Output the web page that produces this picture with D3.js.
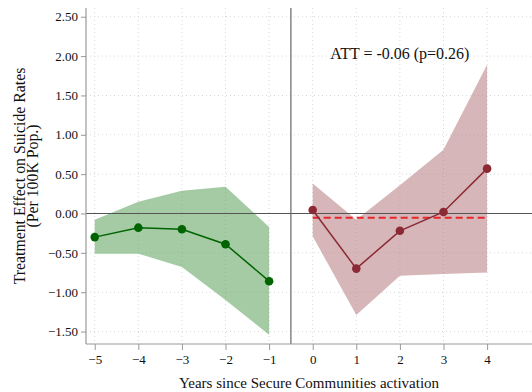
<!DOCTYPE html>
<html><head><meta charset="utf-8">
<script src="https://cdn.jsdelivr.net/npm/d3@7"></script>
<style>body{margin:0;background:#fff}svg{display:block}text{font-family:"Liberation Serif","Times New Roman",serif}</style>
</head><body>
<script>
const preYears = [-5, -4, -3, -2, -1];
const preEst = [-0.30, -0.18, -0.20, -0.39, -0.86];
const preHi = [-0.08, 0.15, 0.29, 0.34, -0.17];
const preLo = [-0.51, -0.51, -0.68, -1.10, -1.54];
const postYears = [0, 1, 2, 3, 4];
const postEst = [0.045, -0.70, -0.22, 0.02, 0.57];
const postHi = [0.38, -0.08, 0.36, 0.81, 1.89];
const postLo = [-0.29, -1.29, -0.79, -0.77, -0.75];
const att = -0.055;
const xTicks = [-5, -4, -3, -2, -1, 0, 1, 2, 3, 4];
const yTicks = [-1.5, -1.0, -0.5, 0, 0.5, 1.0, 1.5, 2.0, 2.5];
const attLabel = "ATT = -0.06 (p=0.26)";

const W = 532, H = 392;
const L = 86, R = 532, T = 8, B = 344;
const svg = d3.select("body").append("svg").attr("width", W).attr("height", H);
const x = d3.scaleLinear().domain([-5.2, 5.03]).range([L, R]);
const y = d3.scaleLinear().domain([-1.658, 2.611]).range([B, T]);

// grid
const g = svg.append("g");
g.selectAll(".gx").data(xTicks).join("line")
  .attr("x1", d => x(d)).attr("x2", d => x(d)).attr("y1", T).attr("y2", B)
  .attr("stroke", "#d8d8d8").attr("stroke-width", 1).attr("stroke-dasharray", "1,3");
g.selectAll(".gy").data(yTicks).join("line")
  .attr("x1", L).attr("x2", R).attr("y1", d => y(d)).attr("y2", d => y(d))
  .attr("stroke", "#d8d8d8").attr("stroke-width", 1).attr("stroke-dasharray", "1,3");

const pre = preYears.map((d, i) => ({x: d, e: preEst[i], hi: preHi[i], lo: preLo[i]}));
const post = postYears.map((d, i) => ({x: d, e: postEst[i], hi: postHi[i], lo: postLo[i]}));
const area = d3.area().x(d => x(d.x)).y0(d => y(d.lo)).y1(d => y(d.hi));
const line = d3.line().x(d => x(d.x)).y(d => y(d.e));

svg.append("path").datum(pre).attr("d", area).attr("fill", "#62a562").attr("fill-opacity", 0.58);
svg.append("path").datum(post).attr("d", area).attr("fill", "#b57a7e").attr("fill-opacity", 0.55);

// zero line and vertical line
svg.append("line").attr("x1", L).attr("x2", R).attr("y1", y(0)).attr("y2", y(0)).attr("stroke", "#555").attr("stroke-width", 1.2);
svg.append("line").attr("x1", x(-0.5)).attr("x2", x(-0.5)).attr("y1", T).attr("y2", B).attr("stroke", "#666").attr("stroke-width", 1.2);

// ATT dashed
svg.append("line").attr("x1", x(0)).attr("x2", x(4)).attr("y1", y(att)).attr("y2", y(att))
  .attr("stroke", "#e8262a").attr("stroke-width", 2).attr("stroke-dasharray", "7,4");

svg.append("path").datum(pre).attr("d", line).attr("fill", "none").attr("stroke", "#006400").attr("stroke-width", 1.5);
svg.selectAll(".pp").data(pre).join("circle").attr("cx", d => x(d.x)).attr("cy", d => y(d.e)).attr("r", 4.3).attr("fill", "#006400");
svg.append("path").datum(post).attr("d", line).attr("fill", "none").attr("stroke", "#8b2a35").attr("stroke-width", 1.5);
svg.selectAll(".qp").data(post).join("circle").attr("cx", d => x(d.x)).attr("cy", d => y(d.e)).attr("r", 4.3).attr("fill", "#8b2a35");

// axes
const ax = svg.append("g").attr("transform", `translate(0,${B})`)
  .call(d3.axisBottom(x).tickValues(xTicks).tickFormat(d3.format("d")).tickSize(6).tickPadding(5));
ax.select(".domain").remove();
ax.selectAll(".tick line").attr("stroke", "#999");
ax.selectAll("text").attr("font-size", 13).attr("fill", "#111").attr("font-family", "Liberation Serif");
const ay = svg.append("g").attr("transform", `translate(${L},0)`)
  .call(d3.axisLeft(y).tickValues(yTicks).tickFormat(d3.format(".2f")).tickSize(5).tickPadding(3));
ay.select(".domain").remove();
ay.selectAll(".tick line").attr("stroke", "#999");
ay.selectAll("text").attr("font-size", 13).attr("fill", "#111").attr("font-family", "Liberation Serif");
svg.append("line").attr("x1", L).attr("x2", R).attr("y1", B).attr("y2", B).attr("stroke", "#999").attr("stroke-width", 1.2);
svg.append("line").attr("x1", L).attr("x2", L).attr("y1", T).attr("y2", B).attr("stroke", "#999").attr("stroke-width", 1.2);

// labels
svg.append("text").attr("x", x(2)).attr("y", 59).attr("text-anchor", "middle").attr("font-size", 16).attr("fill", "#111").text(attLabel);
svg.append("text").attr("x", (L + R) / 2).attr("y", 388).attr("text-anchor", "middle").attr("font-size", 15).attr("fill", "#111").text("Years since Secure Communities activation");
const cy = (T + B) / 2;
svg.append("text").attr("transform", `translate(25,${cy}) rotate(-90)`).attr("text-anchor", "middle").attr("font-size", 15.8).attr("fill", "#111").text("Treatment Effect on Suicide Rates");
svg.append("text").attr("transform", `translate(38,${cy}) rotate(-90)`).attr("text-anchor", "middle").attr("font-size", 15.8).attr("fill", "#111").text("(Per 100K Pop.)");
</script>
</body></html>
